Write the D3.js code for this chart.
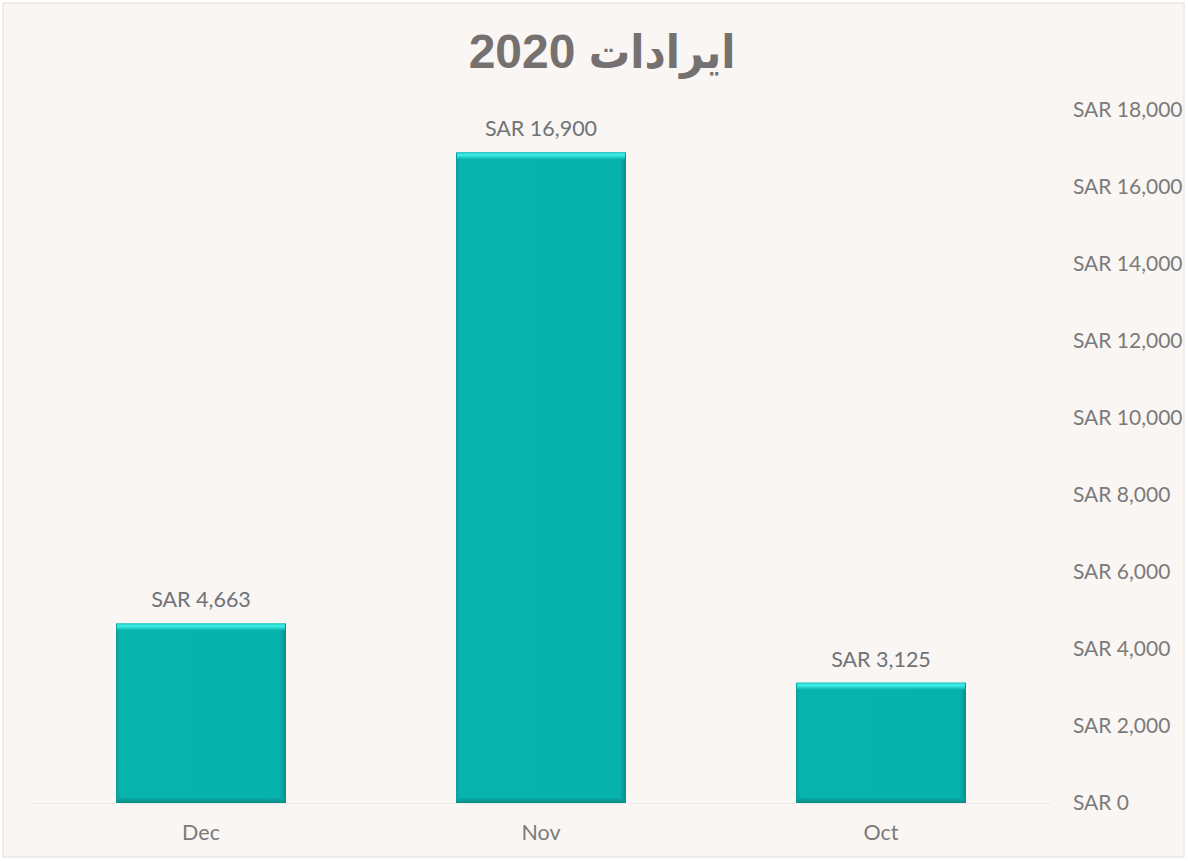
<!DOCTYPE html>
<html>
<head>
<meta charset="utf-8">
<script src="https://cdn.jsdelivr.net/npm/d3@7"></script>
<style>
  body { margin: 0; background: #ffffff; }
  svg { display: block; }
</style>
</head>
<body>
<div class="visHolder"></div>
<script>
// chart data
var months = ["Dec", "Nov", "Oct"];
var revenue = [4663, 16900, 3125];
var yTicks = [0, 2000, 4000, 6000, 8000, 10000, 12000, 14000, 16000, 18000];
var titleWord = "ايرادات";
var titleYear = " 2020";

var W = 1188, H = 861;

var svg = d3.select(".visHolder")
    .append("svg")
    .attr("width", W)
    .attr("height", H);

// chart area background + faint frame
svg.append("rect")
    .attr("x", 3).attr("y", 3)
    .attr("width", W - 7).attr("height", H - 7)
    .attr("fill", "#faf6f3")
    .attr("stroke", "#ece8e4")
    .attr("stroke-width", 1.5);

var data = months.map((m, i) => ({ month: m, value: revenue[i] }));

var x = d3.scaleBand()
    .domain(months)
    .range([31, 1051])
    .paddingInner(0.5)
    .paddingOuter(0.25);

var y = d3.scaleLinear()
    .domain([0, 18000])
    .range([803, 110]);

var fmt = d3.format(",");
var labelColor = "#7b7b7b";
var labelFont = "Lato, 'Open Sans', sans-serif";

// gradients for the bevelled bars
var defs = svg.append("defs");
var sideGrad = defs.append("linearGradient").attr("id", "barSide")
    .attr("x1", "0").attr("x2", "1").attr("y1", "0").attr("y2", "0");
sideGrad.append("stop").attr("offset", "0").attr("stop-color", "#0a9e98");
sideGrad.append("stop").attr("offset", "0.025").attr("stop-color", "#08b4ad");
sideGrad.append("stop").attr("offset", "0.965").attr("stop-color", "#06b3ac");
sideGrad.append("stop").attr("offset", "1").attr("stop-color", "#0b8b86");

var topGrad = defs.append("linearGradient").attr("id", "barTop")
    .attr("x1", "0").attr("x2", "0").attr("y1", "0").attr("y2", "1");
topGrad.append("stop").attr("offset", "0").attr("stop-color", "#1ec9c2");
topGrad.append("stop").attr("offset", "0.35").attr("stop-color", "#3ff0e8");
topGrad.append("stop").attr("offset", "1").attr("stop-color", "#08b4ad");

var botGrad = defs.append("linearGradient").attr("id", "barBot")
    .attr("x1", "0").attr("x2", "0").attr("y1", "0").attr("y2", "1");
botGrad.append("stop").attr("offset", "0").attr("stop-color", "#07aaa4");
botGrad.append("stop").attr("offset", "1").attr("stop-color", "#0b8a85");

// baseline
svg.append("line")
    .attr("x1", 31).attr("x2", 1051)
    .attr("y1", y(0) + 0.5).attr("y2", y(0) + 0.5)
    .attr("stroke", "#efebe8")
    .attr("stroke-width", 1);

var bars = svg.selectAll(".bar")
    .data(data)
    .enter()
    .append("g")
    .attr("class", "bar");

bars.append("rect")
    .attr("x", d => x(d.month))
    .attr("y", d => y(d.value))
    .attr("width", x.bandwidth())
    .attr("height", d => y(0) - y(d.value))
    .attr("fill", "url(#barSide)");

bars.append("rect")
    .attr("x", d => x(d.month) + 1)
    .attr("y", d => y(d.value))
    .attr("width", x.bandwidth() - 2)
    .attr("height", 7)
    .attr("fill", "url(#barTop)");

bars.append("rect")
    .attr("x", d => x(d.month) + 1)
    .attr("y", y(0) - 5)
    .attr("width", x.bandwidth() - 2)
    .attr("height", 5)
    .attr("fill", "url(#barBot)");

// value labels
bars.append("text")
    .attr("x", d => x(d.month) + x.bandwidth() / 2)
    .attr("y", d => y(d.value) - 16)
    .attr("text-anchor", "middle")
    .style("font-family", labelFont)
    .style("font-size", "21.5px")
    .style("fill", "#6f7378")
    .text(d => "SAR " + fmt(d.value));

// category axis
var xAxis = svg.append("g")
    .attr("transform", `translate(0, ${y(0)})`)
    .call(d3.axisBottom(x).tickSize(0).tickPadding(22));
xAxis.select(".domain").remove();
xAxis.selectAll("text")
    .style("font-family", labelFont)
    .style("font-size", "21.5px")
    .style("fill", labelColor);

// value axis on the right
var yAxis = svg.append("g")
    .attr("transform", "translate(1073, 0)")
    .call(d3.axisRight(y).tickValues(yTicks).tickSize(0).tickPadding(0)
        .tickFormat(d => "SAR " + fmt(d)));
yAxis.select(".domain").remove();
yAxis.selectAll("text")
    .style("font-family", labelFont)
    .style("font-size", "21px")
    .style("fill", labelColor);

// title
var titleText = svg.append("text")
    .attr("x", 602)
    .attr("y", 68)
    .attr("text-anchor", "middle")
    .attr("direction", "rtl")
    .style("font-weight", "bold")
    .style("fill", "#767171");
titleText.append("tspan")
    .style("font-family", "'DejaVu Sans Condensed', 'DejaVu Sans', sans-serif")
    .style("font-size", "46px")
    .text(titleWord);
titleText.append("tspan")
    .style("font-family", "'Liberation Sans', Arial, sans-serif")
    .style("font-size", "48px")
    .text(titleYear);
</script>
</body>
</html>
